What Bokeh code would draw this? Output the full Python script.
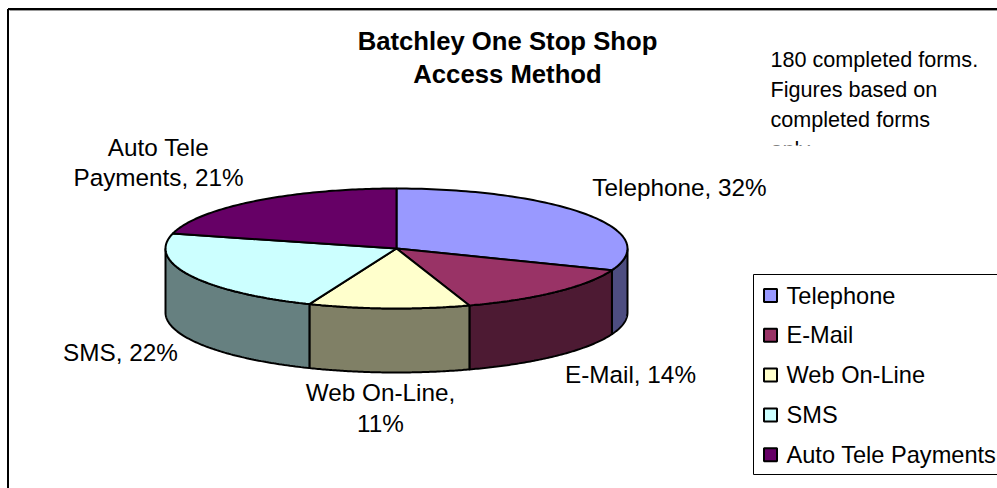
import numpy as np
from bokeh.embed import file_html
from bokeh.models import Range1d
from bokeh.plotting import figure
from bokeh.resources import INLINE
from bokeh.core.properties import value

# Survey data
categories = ["Telephone", "E-Mail", "Web On-Line", "SMS", "Auto Tele Payments"]
shares = [32, 14, 11, 22, 21]
top_colors = ["#9999FF", "#993366", "#FFFFCC", "#CCFFFF", "#660066"]
side_colors = ["#4D4D80", "#4D1A33", "#808066", "#668080", "#330033"]

title_lines = ["Batchley One Stop Shop", "Access Method"]
note_lines = ["180 completed forms.", "Figures based on", "completed forms", "only"]

FONT = value("Liberation Sans")
CX, CY, RX, RY, DEPTH = 396, 248, 231, 60, 64
LABEL_SIZE = "24.3px"

p = figure(width=997, height=488, output_backend="svg", toolbar_location=None,
           x_range=Range1d(0, 997), y_range=Range1d(488, 0),
           min_border=0, outline_line_color=None, background_fill_color="white")
p.axis.visible = False
p.grid.visible = False


def rim(a0, a1, n=90):
    """Points on the pie's top rim for clockwise angles measured from 12 o'clock."""
    t = np.radians(np.linspace(a0, a1, n))
    return CX + RX * np.sin(t), CY - RY * np.cos(t)


def view_shift(a):
    """Small apparent rotation of slice boundaries caused by the 3-D viewpoint."""
    return np.clip(4.2 * np.sin(np.radians(0.65 * a)), 0, None)


# Chart frame, open towards the window's right and bottom edges
p.line([7.5, 7.5], [488, 8.5], line_color="black", line_width=2)
p.line([7.5, 997], [8.5, 8.5], line_color="black", line_width=2)
p.line([9, 997], [10, 10], line_color="#999999", line_width=1)

# Slice boundaries in degrees
edges = np.concatenate([[0], np.cumsum(shares)]) * 360.0 / sum(shares)
edges = edges - view_shift(edges)

# Outer walls: only the part of each slice facing the viewer
for i in range(len(shares)):
    a0, a1 = max(edges[i], 90), min(edges[i + 1], 270)
    if a1 <= a0:
        continue
    x, y = rim(a0, a1)
    p.patch(np.r_[x, x[::-1]], np.r_[y, y[::-1] + DEPTH],
            fill_color=side_colors[i], line_color="black", line_width=2)

# Top faces
for i in range(len(shares)):
    x, y = rim(edges[i], edges[i + 1])
    p.patch(np.r_[CX, x], np.r_[CY, y],
            fill_color=top_colors[i], line_color="black", line_width=2)

# Title
for line, y in zip(title_lines, [40, 73]):
    p.text([507], [y], text=[line], text_font=FONT, text_font_style="bold",
           text_font_size="25.7px", text_align="center", text_baseline="middle", text_color="black")

# Note box, whose last line is cut off by the box's lower edge
for line, y in zip(note_lines, [59, 89, 119, 149]):
    p.text([770], [y], text=[line], text_font=FONT, text_font_size="21.6px",
           text_align="left", text_baseline="middle", text_color="black")
p.quad(left=[765], right=[990], top=[145], bottom=[165], fill_color="white", line_color=None)

# Data labels
data_labels = [f"{c}, {s}%" for c, s in zip(categories, shares)]
p.text([679], [187], text=[data_labels[0]], text_font=FONT, text_font_size=LABEL_SIZE,
       text_align="center", text_baseline="middle")
p.text([630], [374], text=[data_labels[1]], text_font=FONT, text_font_size=LABEL_SIZE,
       text_align="center", text_baseline="middle")
p.text([380, 380], [392, 423], text=["Web On-Line,", f"{shares[2]}%"], text_font=FONT,
       text_font_size=LABEL_SIZE, text_align="center", text_baseline="middle")
p.text([120], [352], text=[data_labels[3]], text_font=FONT, text_font_size=LABEL_SIZE,
       text_align="center", text_baseline="middle")
p.text([158, 158], [147, 177], text=["Auto Tele", f"Payments, {shares[4]}%"], text_font=FONT,
       text_font_size=LABEL_SIZE, text_align="center", text_baseline="middle")

# Legend box and rows
p.line([997, 753, 753, 997], [274, 274, 474, 474], line_color="black", line_width=1)
for i, name in enumerate(categories):
    yc = 295 + i * 39.8
    p.quad(left=[763.5], right=[776.5], top=[yc - 6.5], bottom=[yc + 6.5],
           fill_color=top_colors[i], line_color="black", line_width=2)
    p.text([786], [yc], text=[name], text_font=FONT, text_font_size="23.6px",
           text_align="left", text_baseline="middle", text_color="black")

open("out.html", "w").write(file_html(p, INLINE))
